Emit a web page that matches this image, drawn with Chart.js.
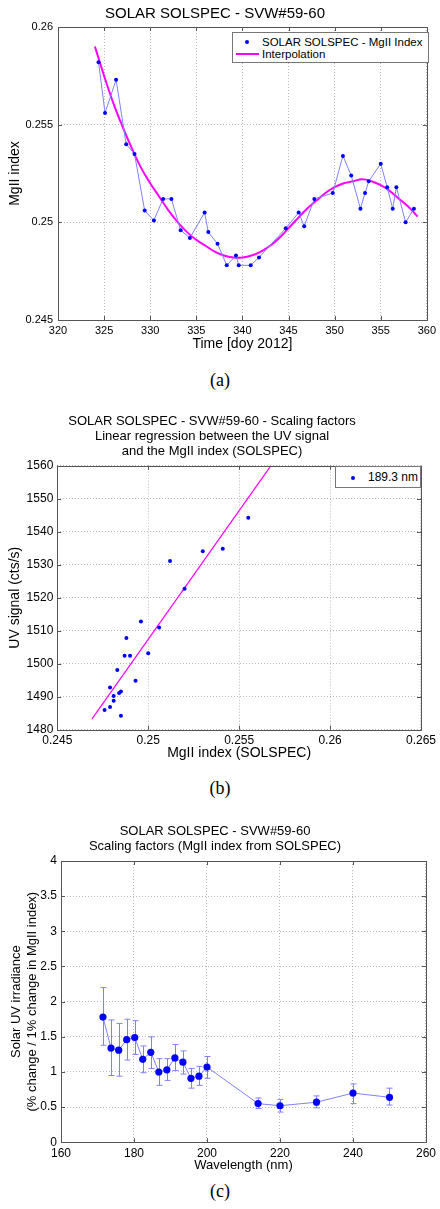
<!DOCTYPE html>
<html>
<head>
<meta charset="utf-8">
<script src="https://cdn.jsdelivr.net/npm/chart.js@4.4.1/dist/chart.umd.min.js"></script>
<style>
  body { margin: 0; background: #fff; width: 440px; height: 1209px; position: relative; overflow: hidden;
         font-family: "Liberation Sans", Arial, sans-serif; color: #000; }
  .wrap { position: absolute; left: 0; width: 440px; }
  .cap { position: absolute; left: 0; width: 440px; text-align: center; height: 20px; line-height: 20px;
         font-family: "Liberation Serif", "DejaVu Serif", serif; font-size: 18px; }
  .lbox { position: absolute; box-sizing: border-box; border: 1px solid #777; background: #fff; }
  .ltxt { position: absolute; white-space: nowrap; height: 14px; line-height: 14px; }
  .dot { position: absolute; width: 4px; height: 4px; border-radius: 2px; background: #0000ff; }
  .lline { position: absolute; height: 2px; background: #ff00ff; }
</style>
</head>
<body>

<div class="wrap" style="top:0;height:360px"><canvas id="chartA" width="440" height="360"></canvas></div>
<div class="wrap" style="top:400px;height:370px"><canvas id="chartB" width="440" height="370"></canvas></div>
<div class="wrap" style="top:800px;height:380px"><canvas id="chartC" width="440" height="380"></canvas></div>

<!-- legend (a) -->
<div class="lbox" style="left:232px;top:32px;width:197px;height:31px"></div>
<div class="dot" style="left:245px;top:40px"></div>
<div class="ltxt" style="left:262px;top:35px;font-size:11.5px">SOLAR SOLSPEC - MgII Index</div>
<div class="lline" style="left:236px;top:53px;width:23px"></div>
<div class="ltxt" style="left:262px;top:47px;font-size:11.5px">Interpolation</div>

<!-- legend (b) -->
<div class="lbox" style="left:335px;top:466px;width:86px;height:22px"></div>
<div class="dot" style="left:351px;top:476px"></div>
<div class="ltxt" style="left:368px;top:470px;font-size:12px">189.3 nm</div>

<div class="cap" style="top:370px">(a)</div>
<div class="cap" style="top:778px">(b)</div>
<div class="cap" style="top:1181px">(c)</div>

<script>
// (a) MgII index time series
const mgDays = [324.4, 325.1, 326.3, 327.4, 328.3, 329.4, 330.4, 331.4, 332.3, 333.3, 334.3, 335.9,
                336.3, 337.3, 338.3, 339.3, 339.6, 340.9, 341.8, 344.7, 346.1, 346.7, 347.8, 349.8,
                350.9, 351.8, 352.8, 353.3, 353.7, 355.0, 355.7, 356.3, 356.7, 357.7, 358.6];
const mgIndex = [0.2582, 0.2556, 0.2573, 0.2540, 0.2535, 0.2506, 0.2501, 0.2512, 0.2512, 0.2496, 0.2492, 0.2505,
                 0.2495, 0.2489, 0.2478, 0.2483, 0.2478, 0.2478, 0.2482, 0.2497, 0.2505, 0.2498, 0.2512, 0.2515,
                 0.2534, 0.2524, 0.2507, 0.2515, 0.2521, 0.2530, 0.2518, 0.2507, 0.2518, 0.2500, 0.2507];
const fitDays = [324, 325, 326, 327, 328, 329, 330, 331, 332, 333, 334, 335, 336, 337, 338, 339, 340, 341,
                 342, 343, 344, 345, 346, 347, 348, 349, 350, 351, 352, 353, 354, 355, 356, 357, 358, 359];
const fitIndex = [0.2590, 0.2575, 0.2561, 0.2549, 0.2538, 0.2528, 0.2520, 0.2513, 0.2506, 0.2500, 0.2495, 0.2491,
                  0.2488, 0.2485, 0.2483, 0.2482, 0.2482, 0.2483, 0.2485, 0.2488, 0.2492, 0.2497, 0.2502, 0.2507,
                  0.2511, 0.2515, 0.2518, 0.2520, 0.2521, 0.2522, 0.2521, 0.2519, 0.2516, 0.2512, 0.2508, 0.2503];
const aXTicks = [320, 325, 330, 335, 340, 345, 350, 355, 360];
const aYTicks = [0.245, 0.25, 0.255, 0.26];

// (b) UV signal vs MgII index
const bMg = [0.2512, 0.2520, 0.2530, 0.2541, 0.2555, 0.2496, 0.2506, 0.2500, 0.2488, 0.2487, 0.2490,
             0.2483, 0.2493, 0.2479, 0.2485, 0.2484, 0.2481, 0.2481, 0.2479, 0.2476, 0.2485];
const bUV = [1531.1, 1522.7, 1534.1, 1534.8, 1544.2, 1512.8, 1511.0, 1503.2, 1507.8, 1502.4, 1502.4,
             1498.1, 1494.8, 1492.8, 1491.6, 1491.1, 1490.2, 1488.8, 1486.9, 1486.0, 1484.2];
const regMg = [0.2469, 0.25675];
const regUV = [1483.2, 1560];
const bXTicks = [0.245, 0.25, 0.255, 0.26, 0.265];
const bYTicks = [1480, 1490, 1500, 1510, 1520, 1530, 1540, 1550, 1560];

// (c) scaling factors
const cWave = [171.5, 173.7, 175.8, 178.0, 180.2, 182.4, 184.6, 186.8, 189.0, 191.2, 193.4, 195.6, 197.8, 200.0,
               214.0, 220.0, 230.0, 240.0, 250.0];
const cScale = [1.78, 1.34, 1.31, 1.46, 1.49, 1.18, 1.28, 1.00, 1.03, 1.20, 1.14, 0.91, 0.94, 1.07,
                0.55, 0.52, 0.57, 0.70, 0.64];
const cErrHigh = [2.20, 1.74, 1.69, 1.75, 1.73, 1.37, 1.50, 1.19, 1.19, 1.39, 1.30, 1.05, 1.08, 1.22,
                  0.63, 0.61, 0.66, 0.83, 0.77];
const cErrLow = [1.38, 0.95, 0.94, 1.17, 1.25, 0.99, 1.05, 0.81, 0.88, 1.02, 0.97, 0.77, 0.81, 0.91,
                 0.48, 0.43, 0.49, 0.55, 0.53];
const cXTicks = [160, 180, 200, 220, 240, 260];
const cYTicks = [0, 0.5, 1, 1.5, 2, 2.5, 3, 3.5, 4];

const FONT = '"Liberation Sans", Arial, sans-serif';
const BLUE = '#0000ff';
const LIGHT = '#8080ff';

function pts(xs, ys) {
  return xs.map((x, i) => ({ x: x, y: ys[i] }));
}

// box round the plot + small inward ticks, like matlab
const boxPlugin = {
  id: 'box',
  afterDatasetsDraw(chart) {
    const { ctx, chartArea: a, scales } = chart;
    ctx.save();
    ctx.strokeStyle = '#555';
    ctx.lineWidth = 1;
    ctx.strokeRect(Math.round(a.left) + 0.5, Math.round(a.top) + 0.5,
                   Math.round(a.right - a.left), Math.round(a.bottom - a.top));
    ctx.beginPath();
    scales.x.ticks.forEach(t => {
      const px = Math.round(scales.x.getPixelForValue(t.value)) + 0.5;
      ctx.moveTo(px, a.bottom); ctx.lineTo(px, a.bottom - 4);
      ctx.moveTo(px, a.top); ctx.lineTo(px, a.top + 4);
    });
    scales.y.ticks.forEach(t => {
      const py = Math.round(scales.y.getPixelForValue(t.value)) + 0.5;
      ctx.moveTo(a.left, py); ctx.lineTo(a.left + 4, py);
      ctx.moveTo(a.right, py); ctx.lineTo(a.right - 4, py);
    });
    ctx.stroke();
    ctx.restore();
  }
};

// error bars for chart (c)
const errorBarPlugin = {
  id: 'errbars',
  beforeDatasetsDraw(chart) {
    const { ctx, scales } = chart;
    ctx.save();
    ctx.strokeStyle = LIGHT;
    ctx.lineWidth = 1;
    ctx.beginPath();
    cWave.forEach((w, i) => {
      const px = Math.round(scales.x.getPixelForValue(w)) + 0.5;
      const yTop = scales.y.getPixelForValue(cErrHigh[i]);
      const yBot = scales.y.getPixelForValue(cErrLow[i]);
      ctx.moveTo(px, yTop); ctx.lineTo(px, yBot);
      ctx.moveTo(px - 3, yTop); ctx.lineTo(px + 3, yTop);
      ctx.moveTo(px - 3, yBot); ctx.lineTo(px + 3, yBot);
    });
    ctx.stroke();
    ctx.restore();
  }
};

function axis(o) {
  return {
    type: 'linear',
    min: o.min,
    max: o.max,
    afterBuildTicks: s => { s.ticks = o.ticks.map(v => ({ value: v })); },
    afterFit: s => {
      if (o.width) s.width = o.width;
      if (o.height) s.height = o.height;
    },
    grid: { color: 'rgba(0,0,0,0.28)', lineWidth: 1, drawTicks: false },
    border: { display: false, dash: [1, 2] },
    ticks: {
      autoSkip: false, maxRotation: 0, padding: o.pad,
      color: '#000', font: { family: FONT, size: o.tickSize },
      callback: v => String(v)
    },
    title: {
      display: true, text: o.title, color: '#000',
      font: { family: FONT, size: o.titleSize, lineHeight: o.titleLH || 1.2 },
      padding: o.titlePad
    }
  };
}

function titleOpts(text, size, lh, top, bottom) {
  return {
    display: true, text: text, color: '#000',
    font: { family: FONT, size: size, weight: 'normal', lineHeight: lh },
    padding: { top: top, bottom: bottom }
  };
}

new Chart(document.getElementById('chartA'), {
  type: 'scatter',
  data: {
    datasets: [
      {
        label: 'SOLAR SOLSPEC - MgII Index',
        data: pts(mgDays, mgIndex),
        showLine: true,
        borderColor: LIGHT, borderWidth: 1,
        pointRadius: 2, pointBorderWidth: 0, pointBackgroundColor: BLUE
      },
      {
        label: 'Interpolation',
        data: pts(fitDays, fitIndex),
        showLine: true,
        borderColor: '#ff00ff', borderWidth: 2,
        tension: 0.4,
        pointRadius: 0
      }
    ]
  },
  options: {
    responsive: false, animation: false,
    layout: { padding: { left: 0, right: 10, top: 0, bottom: 0 } },
    plugins: {
      legend: { display: false }, tooltip: { enabled: false },
      title: titleOpts('SOLAR SOLSPEC - SVW#59-60', 15, '18px', 5, 4)
    },
    scales: {
      x: axis({ min: 320, max: 360, ticks: aXTicks, height: 40, pad: 4, tickSize: 11,
                title: 'Time [doy 2012]', titleSize: 14, titlePad: { top: 0, bottom: 7.6 } }),
      y: axis({ min: 0.245, max: 0.26, ticks: aYTicks, width: 58, pad: 5, tickSize: 11,
                title: 'MgII index', titleSize: 14, titlePad: { top: 6.6, bottom: 0 } })
    }
  },
  plugins: [boxPlugin]
});

new Chart(document.getElementById('chartB'), {
  type: 'scatter',
  data: {
    datasets: [
      {
        label: '189.3 nm',
        data: pts(bMg, bUV),
        pointRadius: 2, pointBorderWidth: 0, pointBackgroundColor: BLUE
      },
      {
        label: 'regression',
        data: pts(regMg, regUV),
        showLine: true,
        borderColor: '#ff00ff', borderWidth: 1.2,
        pointRadius: 0
      }
    ]
  },
  options: {
    responsive: false, animation: false,
    layout: { padding: { left: 0, right: 16, top: 0, bottom: 0 } },
    plugins: {
      legend: { display: false }, tooltip: { enabled: false },
      title: titleOpts(['SOLAR SOLSPEC - SVW#59-60 - Scaling factors',
                        'Linear regression between the UV signal',
                        'and the MgII index (SOLSPEC)'], 13, '15px', 14.2, 6.5)
    },
    scales: {
      x: axis({ min: 0.245, max: 0.265, ticks: bXTicks, height: 40.3, pad: 4, tickSize: 12,
                title: 'MgII index (SOLSPEC)', titleSize: 14, titlePad: { top: 0, bottom: 8.6 } }),
      y: axis({ min: 1480, max: 1560, ticks: bYTicks, width: 57.3, pad: 4, tickSize: 12,
                title: 'UV signal (cts/s)', titleSize: 14, titlePad: { top: 6.6, bottom: 0 } })
    }
  },
  plugins: [boxPlugin]
});

new Chart(document.getElementById('chartC'), {
  type: 'scatter',
  data: {
    datasets: [
      {
        label: 'scaling factor',
        data: pts(cWave, cScale),
        showLine: true,
        borderColor: LIGHT, borderWidth: 1,
        pointRadius: 3.6, pointBorderWidth: 0, pointBackgroundColor: BLUE
      }
    ]
  },
  options: {
    responsive: false, animation: false,
    layout: { padding: { left: 0, right: 10, top: 0, bottom: 0 } },
    plugins: {
      legend: { display: false }, tooltip: { enabled: false },
      title: titleOpts(['SOLAR SOLSPEC - SVW#59-60',
                        'Scaling factors (MgII index from SOLSPEC)'], 13, '15px', 24.2, 6.8)
    },
    scales: {
      x: axis({ min: 160, max: 260, ticks: cXTicks, height: 37.7, pad: 4, tickSize: 12,
                title: 'Wavelength (nm)', titleSize: 13, titlePad: { top: 0, bottom: 6.5 } }),
      y: axis({ min: 0, max: 4, ticks: cYTicks, width: 61, pad: 4, tickSize: 12,
                title: ['Solar UV irradiance', '(% change / 1% change in MgII index)'],
                titleSize: 13, titleLH: '16px', titlePad: { top: 8, bottom: 0 } })
    }
  },
  plugins: [boxPlugin, errorBarPlugin]
});
</script>
</body>
</html>
